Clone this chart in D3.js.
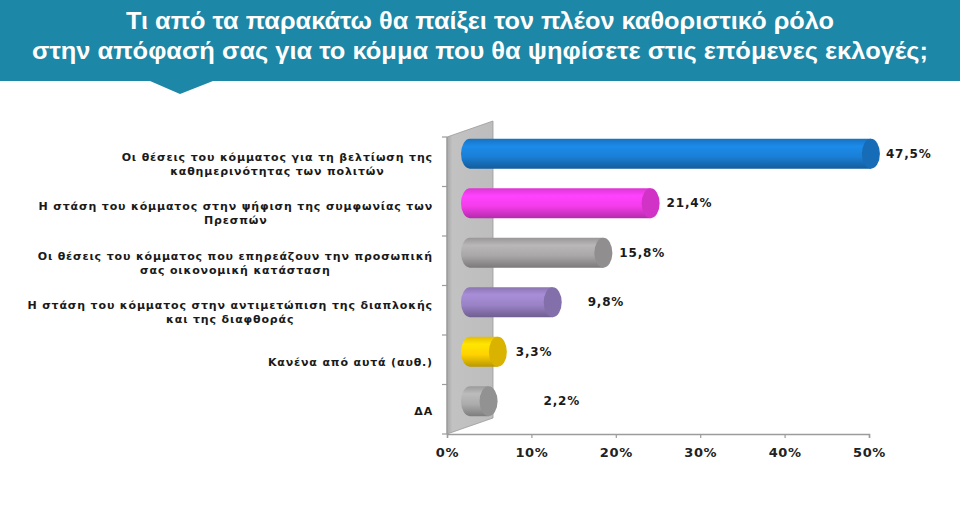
<!DOCTYPE html>
<html>
<head>
<meta charset="utf-8">
<script src="https://cdn.jsdelivr.net/npm/d3@7"></script>
<style>
  body { margin: 0; background: #fff; }
  svg { display: block; }
</style>
</head>
<body>
<div id="chart"></div>
<script>
// question title (two lines)
var titleLines = [
  "Τι από τα παρακάτω θα παίξει τον πλέον καθοριστικό ρόλο",
  "στην απόφασή σας για το κόμμα που θα ψηφίσετε στις επόμενες εκλογές;"
];

// answer categories, each one split in its printed lines
var categories = [
  ["Οι θέσεις του κόμματος για τη βελτίωση της", "καθημερινότητας των πολιτών"],
  ["Η στάση του κόμματος στην ψήφιση της συμφωνίας των", "Πρεσπών"],
  ["Οι θέσεις του κόμματος που επηρεάζουν την προσωπική", "σας οικονομική κατάσταση"],
  ["Η στάση του κόμματος στην αντιμετώπιση της διαπλοκής", "και της διαφθοράς"],
  ["Κανένα από αυτά (αυθ.)"],
  ["ΔΑ"]
];

var values = [47.5, 21.4, 15.8, 9.8, 3.3, 2.2];
var valueLabels = ["47,5%", "21,4%", "15,8%", "9,8%", "3,3%", "2,2%"];
var barColors = ["#1a7fd6", "#f53cea", "#a9a7a7", "#9a82c6", "#ffd200", "#acacac"];
var xTicks = [0, 10, 20, 30, 40, 50];

var W = 960, H = 515;
var svg = d3.select("#chart").append("svg")
    .attr("width", W)
    .attr("height", H);

var defs = svg.append("defs");

// ---- header band
var band = 81;
svg.append("rect")
    .attr("x", 0).attr("y", 0)
    .attr("width", W).attr("height", band)
    .attr("fill", "#1c87a6");
svg.append("path")
    .attr("d", "M150," + band + " L180,94 L213," + band + " Z")
    .attr("fill", "#1c87a6");

var titleWidths = [708, 896];
svg.selectAll("text.title")
    .data(titleLines)
    .enter()
  .append("text")
    .attr("class", "title")
    .attr("x", W / 2)
    .attr("y", function(d, i) { return 29 + i * 30; })
    .attr("text-anchor", "middle")
    .attr("textLength", function(d, i) { return titleWidths[i]; })
    .attr("lengthAdjust", "spacingAndGlyphs")
    .style("font-family", "'Liberation Sans Narrow', 'Liberation Sans', sans-serif")
    .style("font-weight", "bold")
    .style("font-size", "23px")
    .attr("fill", "#fff")
    .text(function(d) { return d; });

// ---- plot area
var x0 = 447, x1 = 869, yTop = 137, yBot = 434;
var depthX = 46, depthY = -16;

var xScale = d3.scaleLinear()
    .domain([0, 50])
    .range([x0, x1]);

var yScale = d3.scaleBand()
    .domain(d3.range(categories.length))
    .range([yTop, yBot]);

// back wall
var wallGrad = defs.append("linearGradient")
    .attr("id", "wall")
    .attr("x1", "0").attr("x2", "1").attr("y1", "0").attr("y2", "0");
wallGrad.append("stop").attr("offset", "0").attr("stop-color", "#a9a9a9");
wallGrad.append("stop").attr("offset", "0.12").attr("stop-color", "#c2c2c2");
wallGrad.append("stop").attr("offset", "1").attr("stop-color", "#bdbdbd");

svg.append("path")
    .attr("d", "M" + x0 + "," + yTop + " L" + (x0 + depthX) + "," + (yTop + depthY) +
               " L" + (x0 + depthX) + "," + (yBot + depthY) + " L" + x0 + "," + yBot + " Z")
    .attr("fill", "url(#wall)")
    .attr("stroke", "#9a9a9a")
    .attr("stroke-width", 0.8);

// x axis
var xAxis = d3.axisBottom(xScale)
    .tickValues(xTicks)
    .tickSize(4)
    .tickFormat(function(d) { return d + "%"; });

var gx = svg.append("g")
    .attr("transform", "translate(0," + yBot + ")")
    .call(xAxis);
gx.select(".domain").attr("stroke", "#9c9c9c").attr("stroke-width", 1.5);
gx.selectAll(".tick line").attr("stroke", "#9c9c9c").attr("stroke-width", 1.2);
gx.selectAll(".tick text")
    .attr("dy", "1.25em")
    .style("font-family", "'DejaVu Sans', sans-serif")
    .style("font-weight", "bold")
    .style("font-size", "13px")
    .style("letter-spacing", "0.6px")
    .attr("fill", "#222");

// y axis (category boundaries)
var gy = svg.append("g");
gy.append("line")
    .attr("x1", x0).attr("x2", x0)
    .attr("y1", yTop).attr("y2", yBot)
    .attr("stroke", "#9c9c9c").attr("stroke-width", 1.2);
gy.selectAll("line.tick")
    .data(d3.range(categories.length + 1))
    .enter()
  .append("line")
    .attr("class", "tick")
    .attr("x1", x0 - 5).attr("x2", x0)
    .attr("y1", function(i) { return yTop + i * yScale.step(); })
    .attr("y2", function(i) { return yTop + i * yScale.step(); })
    .attr("stroke", "#9c9c9c").attr("stroke-width", 1.2);

// category labels: block right aligned, lines centred within it
var labelRight = 433;
categories.forEach(function(lines, i) {
  var g = svg.append("g");
  var t = g.selectAll("text")
      .data(lines)
      .enter()
    .append("text")
      .attr("text-anchor", "middle")
      .style("font-family", "'DejaVu Sans', sans-serif")
      .style("font-weight", "bold")
      .style("font-size", "11px")
      .style("letter-spacing", "0.85px")
      .attr("fill", "#1a1a1a")
      .text(function(d) { return d; });
  var maxW = 0;
  t.each(function() { maxW = Math.max(maxW, this.getComputedTextLength()); });
  var cy = yScale(i) + yScale.bandwidth() / 2 + 2;
  var n = lines.length;
  t.attr("x", labelRight - maxW / 2)
   .attr("y", function(d, j) { return cy + (j - (n - 1) / 2) * 14 + 4; });
});

// cylinders
var offX = depthX / 2, offY = depthY / 2;
var ry = 15, rx = 9;

barColors.forEach(function(c, i) {
  var base = d3.color(c);
  var g = defs.append("linearGradient")
      .attr("id", "bar" + i)
      .attr("x1", "0").attr("x2", "0").attr("y1", "0").attr("y2", "1");
  g.append("stop").attr("offset", "0").attr("stop-color", base.darker(0.3));
  g.append("stop").attr("offset", "0.25").attr("stop-color", base.brighter(0.25));
  g.append("stop").attr("offset", "0.6").attr("stop-color", base);
  g.append("stop").attr("offset", "1").attr("stop-color", base.darker(0.9));
});

var bars = svg.selectAll("g.bar")
    .data(values)
    .enter()
  .append("g")
    .attr("class", "bar");

bars.append("path")
    .attr("d", function(d, i) {
      var cy = yScale(i) + yScale.bandwidth() / 2 + offY;
      var a = xScale(0) + offX, b = xScale(d) + offX;
      return "M" + b + "," + (cy - ry) + " L" + a + "," + (cy - ry) +
             " A" + rx + "," + ry + " 0 0 0 " + a + "," + (cy + ry) +
             " L" + b + "," + (cy + ry) + " Z";
    })
    .attr("fill", function(d, i) { return "url(#bar" + i + ")"; });

bars.append("ellipse")
    .attr("cx", function(d) { return xScale(d) + offX; })
    .attr("cy", function(d, i) { return yScale(i) + yScale.bandwidth() / 2 + offY; })
    .attr("rx", rx)
    .attr("ry", ry)
    .attr("fill", function(d, i) { return d3.color(barColors[i]).darker(0.45); });

// value labels (a few sit further out in the original)
var labelNudge = [6, 7, 7, 26, 9, 46];
bars.append("text")
    .attr("x", function(d, i) { return xScale(d) + offX + rx + labelNudge[i]; })
    .attr("y", function(d, i) { return yScale(i) + yScale.bandwidth() / 2 + offY + 4; })
    .style("font-family", "'DejaVu Sans', sans-serif")
    .style("font-weight", "bold")
    .style("font-size", "12px")
    .style("letter-spacing", "0.8px")
    .attr("fill", "#1a1a1a")
    .text(function(d, i) { return valueLabels[i]; });
</script>
</body>
</html>
